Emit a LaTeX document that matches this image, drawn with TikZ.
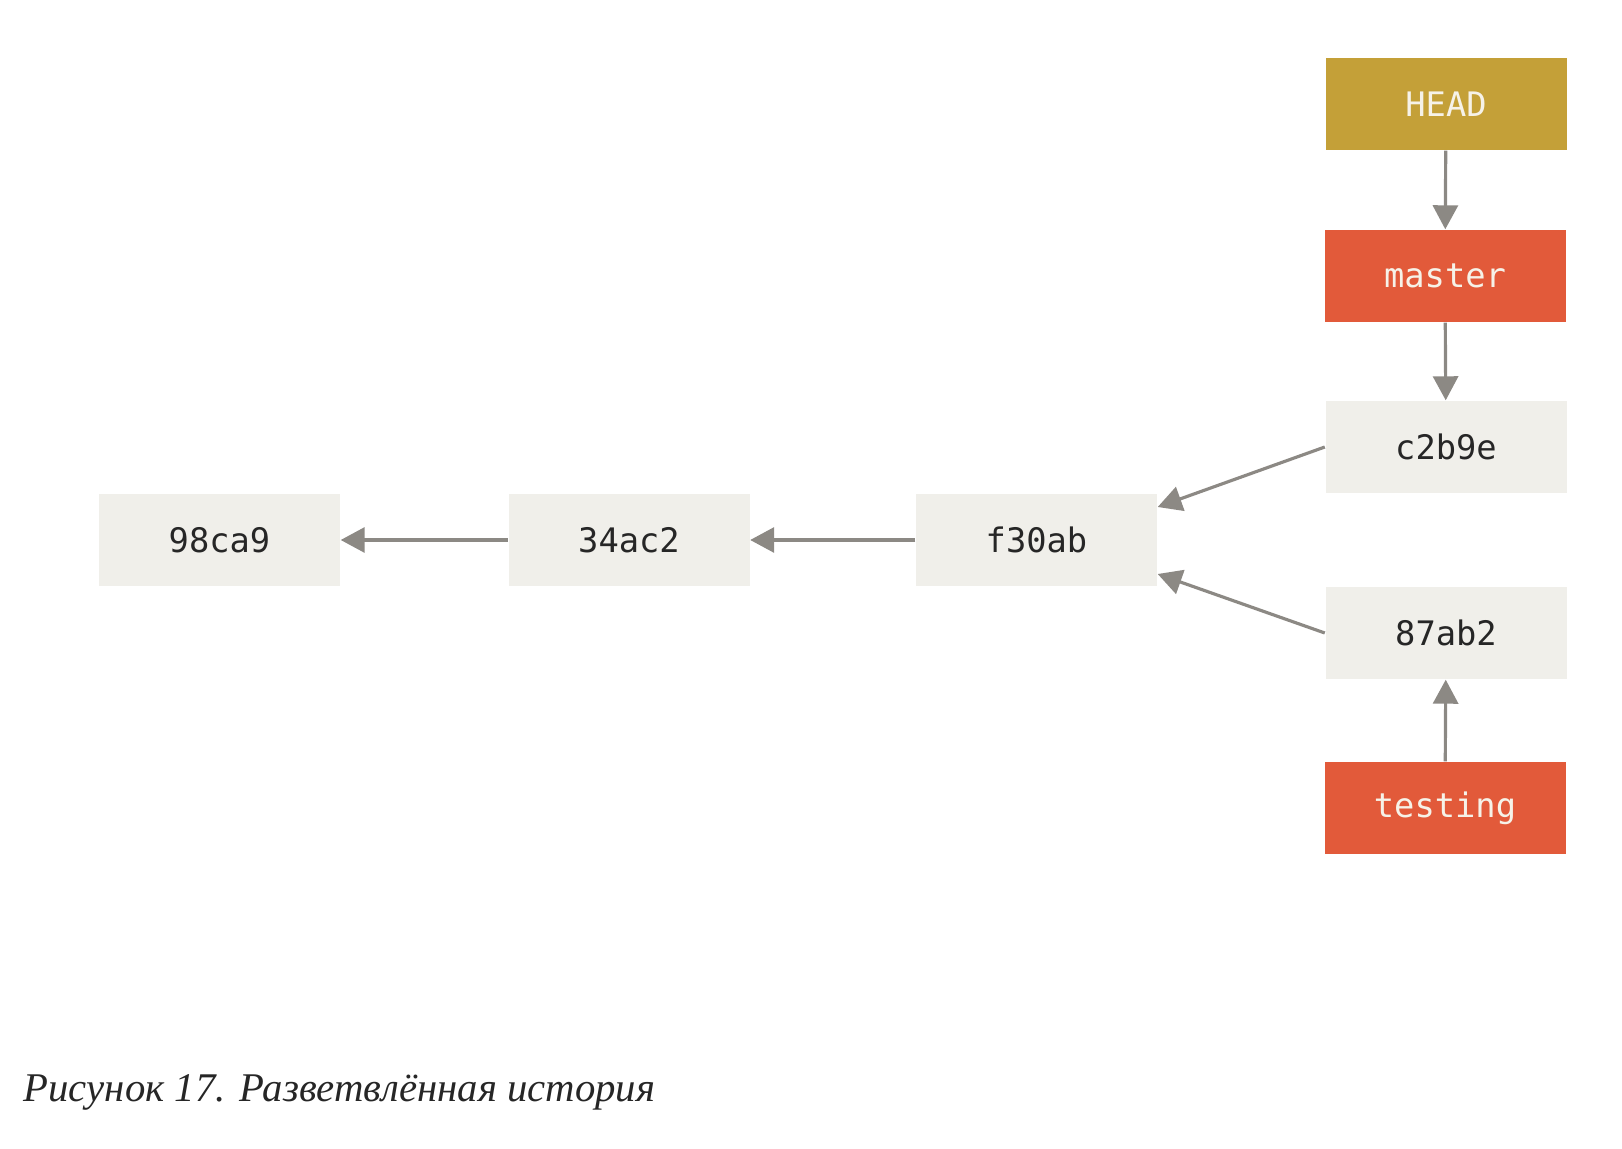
\documentclass[tikz,border=0pt]{standalone}
\usepackage{fontspec}
\setmonofont{DejaVu Sans Mono}
\newfontfamily\captionfont{Liberation Serif}
\usepackage{tikz}
\usetikzlibrary{arrows.meta}
\usepackage{xcolor}
\definecolor{ColHead}{RGB}{196,160,56}
\definecolor{ColBranch}{RGB}{226,90,58}
\definecolor{ColCommit}{RGB}{240,239,234}
\definecolor{ColArrow}{RGB}{140,137,132}
\definecolor{ColLabel}{RGB}{246,242,232}
\tikzstyle{CommitBox}=[rectangle,fill=ColCommit,minimum width=2.41cm,minimum height=0.92cm,
inner sep=0pt,font=\ttfamily\fontsize{9.6}{12}\selectfont,text=black!85]
\tikzstyle{BranchBox}=[CommitBox,fill=ColBranch,text=ColLabel]
\tikzstyle{HeadBox}=[CommitBox,fill=ColHead,text=ColLabel]
\tikzstyle{ArcCommit}=[ColArrow,line width=0.9pt,-{Triangle[length=0.24cm,width=0.25cm]}]

\begin{document}
\begin{tikzpicture}
        \useasboundingbox(0,0)rectangle(16.22,11.48);
        \node[HeadBox](head)at(14.46,10.44){HEAD};
        \node[BranchBox](master)at(14.45,8.72){master};
        \node[CommitBox](c2b9e)at(14.46,7.01){c2b9e};
        \node[CommitBox](98ca9)at(2.195,6.08){98ca9};
        \node[CommitBox](34ac2)at(6.29,6.08){34ac2};
        \node[CommitBox](f30ab)at(10.365,6.08){f30ab};
        \node[CommitBox](87ab2)at(14.46,5.15){87ab2};
        \node[BranchBox](testing)at(14.45,3.40){testing};
        \draw[ArcCommit](head)--(master);
        \draw[ArcCommit](master)--(c2b9e);
        \draw[ArcCommit](34ac2)--(98ca9);
        \draw[ArcCommit](f30ab)--(34ac2);
        \draw[ArcCommit](c2b9e.west)--([yshift=0.33cm]f30ab.east);
        \draw[ArcCommit](87ab2.west)--([yshift=-0.34cm]f30ab.east);
        \draw[ArcCommit](testing)--(87ab2);
        \node[anchor=base west,inner sep=0pt,text=black!85,
          font=\captionfont\itshape\fontsize{11.6}{14}\selectfont](caption)at(0.23,0.47)
          {Рисунок 17. Разветвлённая история};
    \end{tikzpicture}
\end{document}
